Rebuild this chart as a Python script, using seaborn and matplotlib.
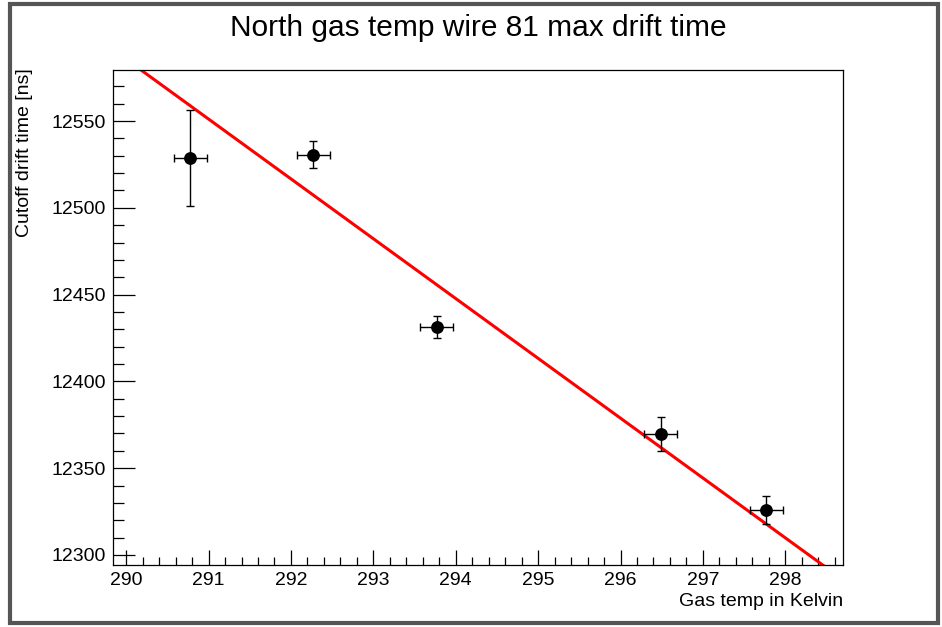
import numpy as np
import matplotlib
matplotlib.use("Agg")
from matplotlib import pyplot as plt
from matplotlib.patches import Rectangle
from matplotlib.ticker import MultipleLocator
import seaborn as sns

# measured points (gas temperature vs cutoff drift time)
gas_temp = [290.78, 292.27, 293.77, 296.49, 297.77]
drift_time = [12528.7, 12530.6, 12431.3, 12369.5, 12325.8]
temp_err = [0.2, 0.2, 0.2, 0.2, 0.2]
drift_err = [27.6, 7.8, 6.2, 9.8, 8.1]

# linear fit parameters
fit_slope = -34.47
fit_intercept = 22581.9

x_range = [289.84, 298.70]
y_range = [12294.2, 12579.4]

sns.set_style("ticks")
plt.rcParams['font.family'] = ['Liberation Sans', 'DejaVu Sans']
plt.rcParams['text.color'] = 'black'
plt.rcParams['xtick.color'] = 'black'
plt.rcParams['ytick.color'] = 'black'

fig = plt.figure(figsize=(9.42, 6.27), dpi=100)
ax = fig.add_axes([113 / 942, 62 / 627, 730 / 942, 495 / 627])

fit_x = np.array(x_range)
sns.lineplot(x=fit_x, y=fit_slope * fit_x + fit_intercept, ax=ax,
             color='#ff0000', linewidth=2.2, zorder=2)

ax.errorbar(gas_temp, drift_time, xerr=temp_err, yerr=drift_err, fmt='none',
            ecolor='black', elinewidth=1.0, capsize=3, capthick=1.0, zorder=3)
sns.scatterplot(x=gas_temp, y=drift_time, ax=ax, color='black', s=85,
                edgecolor='black', linewidth=0, zorder=4)

ax.set_xlim(x_range)
ax.set_ylim(y_range)
ax.xaxis.set_major_locator(MultipleLocator(1))
ax.xaxis.set_minor_locator(MultipleLocator(0.2))
ax.yaxis.set_major_locator(MultipleLocator(50))
ax.yaxis.set_minor_locator(MultipleLocator(10))
ax.tick_params(axis='x', which='major', direction='in', length=11, width=0.9,
               labelsize=14, pad=5, top=False, labelcolor='black')
ax.tick_params(axis='x', which='minor', direction='in', length=6, width=0.9, top=False)
ax.tick_params(axis='y', which='major', direction='in', length=16, width=0.9,
               labelsize=14, pad=5, right=False, labelcolor='black')
ax.tick_params(axis='y', which='minor', direction='in', length=8, width=0.9, right=False)
for side in ax.spines.values():
    side.set_linewidth(0.9)
    side.set_color('black')
ax.set_xlabel('')
ax.set_ylabel('')

fig.text(478 / 942, 1 - 28 / 627, 'North gas temp wire 81 max drift time',
         ha='center', va='center', fontsize=21.5, color='black')
fig.text(843 / 942, 1 - 602 / 627, 'Gas temp in Kelvin',
         ha='right', va='center', fontsize=14, color='black')
fig.text(25 / 942, 1 - 68 / 627, 'Cutoff drift time [ns]',
         ha='center', va='top', rotation=90, fontsize=14, color='black')

# window border of the canvas screenshot
fig.patches.append(Rectangle((10 / 942, 4 / 627), 928 / 942, 619 / 627,
                             transform=fig.transFigure, fill=False,
                             edgecolor='#555555', linewidth=3))

fig.savefig('out.png', dpi=100)
